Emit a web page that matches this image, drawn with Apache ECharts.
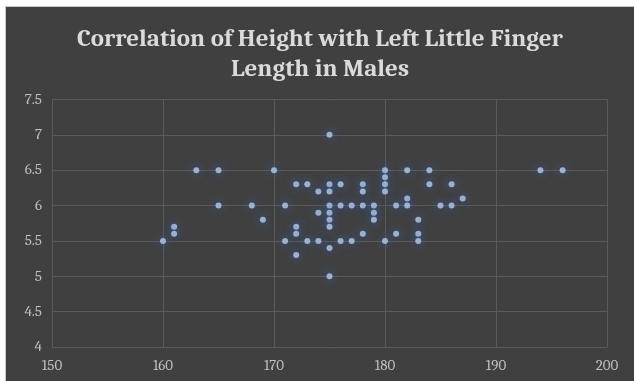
<!DOCTYPE html>
<html>
<head>
<meta charset="utf-8">
<script src="https://cdn.jsdelivr.net/npm/echarts@6/dist/echarts.min.js"></script>
<style>
  html, body { margin: 0; padding: 0; background: #ffffff; }
  #frame { position: absolute; left: 5px; top: 6px; width: 629px; height: 375px; background: #c8c8c8; }
  #chart { position: absolute; left: 6px; top: 7px; width: 628px; height: 374px; }
</style>
</head>
<body>
<div id="frame"></div>
<div id="chart"></div>
<script>
// Height (cm) of each male subject
const heights = [
  160, 161, 161, 163, 165, 165, 168, 169, 170, 171, 171,
  172, 172, 172, 172, 173, 173, 174, 174, 174,
  175, 175, 175, 175, 175, 175, 175, 175, 175,
  176, 176, 176, 177, 177, 178, 178, 178, 178,
  179, 179, 179, 180, 180, 180, 180, 180, 181, 181,
  182, 182, 182, 183, 183, 183, 184, 184, 185, 186, 186, 187,
  194, 196
];
// Left little finger length (cm) of each subject, same order
const fingerLengths = [
  5.5, 5.7, 5.6, 6.5, 6.5, 6.0, 6.0, 5.8, 6.5, 6.0, 5.5,
  6.3, 5.7, 5.6, 5.3, 6.3, 5.5, 6.2, 5.9, 5.5,
  7.0, 6.3, 6.2, 6.0, 5.9, 5.8, 5.7, 5.4, 5.0,
  6.3, 6.0, 5.5, 6.0, 5.5, 6.3, 6.2, 6.0, 5.6,
  6.0, 5.9, 5.8, 6.5, 6.4, 6.3, 6.2, 5.5, 6.0, 5.6,
  6.5, 6.1, 6.0, 5.8, 5.6, 5.5, 6.5, 6.3, 6.0, 6.3, 6.0, 6.1,
  6.5, 6.5
];
const titleText = 'Correlation of Height with Left Little Finger\nLength in Males';
const xTicks = [150, 160, 170, 180, 190, 200];
const yTicks = [4, 4.5, 5, 5.5, 6, 6.5, 7, 7.5];

const points = heights.map((h, i) => [h, fingerLengths[i]]);
const chart = echarts.init(document.getElementById('chart'));
const labelFont = 'Cambria, "Liberation Serif", "DejaVu Serif", serif';
chart.setOption({
  backgroundColor: '#404040',
  animation: false,
  title: {
    text: titleText,
    left: 'center',
    top: 12,
    textStyle: {
      color: '#dadada',
      fontFamily: labelFont,
      fontWeight: 'bold',
      fontSize: 25,
      lineHeight: 30
    }
  },
  grid: { left: 46, top: 92.5, width: 555, height: 247.5, containLabel: false },
  xAxis: {
    type: 'value',
    min: xTicks[0],
    max: xTicks[xTicks.length - 1],
    interval: 10,
    axisLine: { show: false },
    axisTick: { show: false },
    splitLine: { show: true, lineStyle: { color: '#5a5a5a', width: 1 } },
    axisLabel: { color: '#bfbfbf', fontFamily: labelFont, fontSize: 15, margin: 11 }
  },
  yAxis: {
    type: 'value',
    min: yTicks[0],
    max: yTicks[yTicks.length - 1],
    interval: 0.5,
    axisLine: { show: false },
    axisTick: { show: false },
    splitLine: { show: true, lineStyle: { color: '#5a5a5a', width: 1 } },
    axisLabel: { color: '#bfbfbf', fontFamily: labelFont, fontSize: 15, margin: 10 }
  },
  series: [{
    type: 'scatter',
    data: points,
    symbol: 'circle',
    symbolSize: 6,
    itemStyle: {
      color: '#b5cbeb',
      shadowBlur: 9,
      shadowColor: 'rgba(55, 110, 210, 1)'
    }
  }]
});
</script>
</body>
</html>
